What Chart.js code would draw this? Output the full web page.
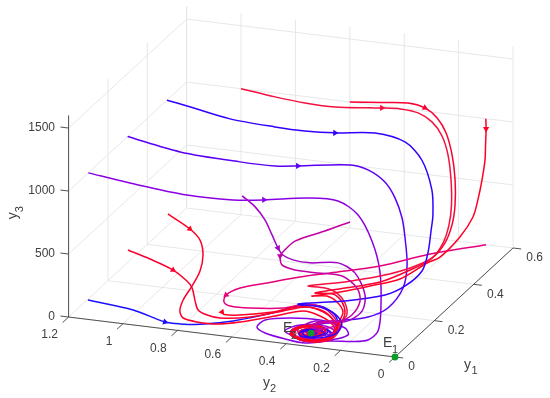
<!DOCTYPE html>
<html>
<head>
<meta charset="utf-8">
<style>
html, body { margin: 0; padding: 0; background: #fff; }
canvas { display: block; }
</style>
<script src="https://cdn.jsdelivr.net/npm/chart.js@4"></script>
</head>
<body>
<canvas id="phase_chart" width="550" height="398"></canvas>
<script>
var y1Ticks = [0, 0.2, 0.4, 0.6];
var y2Ticks = [0, 0.2, 0.4, 0.6, 0.8, 1, 1.2];
var y3Ticks = [0, 500, 1000, 1500];
var y3Top = 1600;

// equilibria
var e1 = [0, 0, 0];
var e2 = [0.02, 0.323, 76];

// trajectories, values
var redAY1 = [.6,.6,.6,.6,.6,.6,.6,.6,.6,.6,.6,.6,.55,.5,.45,.42,.38,.35,.32,.29,.25,.22,.18,.13,.08,.02,.02,.02,.02,.02,.02,.02,.02,.02,.02,.02,.02,.02,.02,.02];
var redAY2 = [1,.875,.765,.654,.526,.482,.415,.349,.298,.261,.239,.228,.19,.163,.149,.168,.219,.308,.415,.529,.438,.372,.314,.271,.26,.224,.246,.29,.338,.382,.386,.353,.308,.283,.297,.327,.353,.338,.316,.323];
var redAY3 = [1000,968,949,946,973,984,994,980,922,820,675,480,364,284,216,136,101,56,25,6,71,92,86,75,86,110,57,21,17,37,75,117,136,119,75,52,69,89,87,68];

var redBY1 = [.6,.6,.6,.6,.6,.6,.6,.6,.55,.5,.45,.42,.38,.33,.3,.26,.23,.18,.13,.08,.02,.02,.02,.02,.02,.02,.02,.02,.02,.02,.02,.02,.02,.02,.02];
var redBY2 = [.6,.489,.386,.324,.279,.246,.224,.213,.177,.152,.142,.171,.219,.294,.401,.482,.394,.325,.278,.256,.228,.253,.301,.353,.393,.382,.338,.29,.272,.308,.353,.364,.327,.301,.323];
var redBY3 = [1000,1026,1049,1026,958,848,679,484,367,287,218,127,85,41,9,6,64,91,88,79,94,40,11,13,42,93,129,133,98,48,53,82,99,83,60];

var redCY1 = [.6,.6,.6,.6,.6,.55,.55,.5,.45,.42,.37,.32,.28,.24,.21,.17,.12,.07,.02,.02,.02,.02,.02,.02,.02,.02,.02,.02,.02,.02,.02,.02];
var redCY2 = [.1,.099,.101,.103,.114,.093,.111,.123,.16,.186,.249,.323,.405,.479,.402,.336,.278,.257,.235,.261,.308,.364,.4,.371,.327,.283,.297,.342,.371,.345,.305,.319];
var redCY3 = [1000,919,791,672,510,429,289,199,102,91,20,17,5,11,75,102,110,109,100,45,17,18,48,103,131,111,60,40,64,98,97,66];

var redDY1 = [.05,.05,.05,.05,.05,.05,.05,.05,.05,.05,.05,.05,.05,.05,.02,.02,.02,.02,.02,.02,.02,.02,.02,.02,.02,.02,.02,.02,.02];
var redDY2 = [1.018,.937,.852,.801,.782,.771,.76,.727,.679,.569,.448,.36,.301,.264,.231,.261,.327,.386,.397,.353,.29,.268,.312,.364,.356,.312,.294,.331,.323];
var redDY3 = [508,458,393,319,269,168,100,69,58,95,175,229,206,152,125,45,12,28,73,125,141,99,40,42,91,107,76,59,76];

var redEY1 = [.05,.05,.05,.05,.05,.05,.05,.05,.05,.05,.05,.05,.05,.05,.05,.05,.02,.02,.02,.02,.02,.02,.02,.02,.02,.02,.02,.02];
var redEY2 = [.871,.79,.753,.742,.753,.782,.815,.827,.815,.764,.69,.606,.477,.374,.312,.264,.239,.283,.353,.393,.367,.305,.276,.334,.367,.331,.297,.323];
var redEY3 = [833,735,657,541,411,285,165,75,22,4,7,45,127,194,171,112,91,24,6,50,113,129,81,38,65,106,91,60];

var redFY1 = [.05,.05,.05,.05,.05,.05,.05,.05,.02,.02,.02,.02,.02,.02,.02,.02,.02,.02,.02];
var redFY2 = [.672,.665,.606,.485,.396,.319,.275,.249,.25,.308,.371,.389,.345,.286,.29,.345,.353,.305,.316];
var redFY3 = [107,90,101,157,220,225,180,92,64,21,24,67,118,118,61,43,85,97,67];

var pinkY1 = [.6,.46,.36,.3,.26,.2,.15,.12,.1,.08,.06,.04,.04,.04,.03,.02,.02,.02,.02,.02,.02,.02,.02,.02,.02];
var pinkY2 = [.099,.204,.315,.456,.537,.615,.678,.708,.701,.664,.576,.441,.353,.286,.239,.235,.272,.345,.386,.364,.297,.283,.327,.342,.319];
var pinkY3 = [0,100,120,114,118,137,152,132,107,114,150,214,269,248,187,116,51,23,52,106,123,87,56,79,74];

var magentaY1 = [.15,.15,.15,.15,.15,.15,.15,.15,.15,.15,.15,.15,.05,.02,.02,.02,.02,.02,.02,.02,.02,.02,.02,.02,.02];
var magentaY2 = [.274,.366,.476,.524,.531,.524,.476,.392,.303,.248,.237,.267,.238,.253,.29,.319,.305,.261,.231,.253,.297,.312,.283,.297,.316];
var magentaY3 = [783,687,578,471,445,376,348,347,346,265,165,46,151,191,172,141,113,133,164,179,155,123,119,99,83];

var violetY1 = [.08,.08,.08,.08,.08,.08,.08,.08,.08,.08,.08,.08,.08,.02,.02,.02,.02,.02,.02,.02,.02,.02,.02,.02,.02];
var violetY2 = [.62,.572,.536,.51,.488,.47,.433,.37,.267,.205,.168,.179,.231,.261,.308,.371,.353,.283,.239,.272,.334,.353,.297,.294,.331];
var violetY3 = [1000,925,831,719,621,570,541,534,561,498,333,202,110,172,175,95,29,40,114,146,114,61,67,100,83];

var purpleY1 = [.1,.1,.1,.1,.1,.1,.1,.1,.1,.1,.1,.03,.02,.02,.02,.01,.02,.02,.02,.02,.02,.02,.02,.02,.02,.02,.02,.02,.02,.02,.02,.02];
var purpleY2 = [1.2,1.047,.837,.668,.554,.392,.282,.208,.157,.128,.124,.084,.114,.172,.253,.338,.419,.492,.522,.492,.4,.29,.198,.187,.253,.364,.419,.364,.272,.253,.316,.345];
var purpleY3 = [1000,960,920,926,956,1014,1020,928,735,504,212,141,76,49,32,7,4,32,71,135,175,188,149,97,40,26,67,129,130,87,55,79];

var blueAY1 = [.5,.5,.5,.5,.5,.5,.5,.5,.5,.5,.45,.45,.42,.36,.32,.28,.24,.2,.17,.12,.07,.02,.02,.02,.02,.02,.02,.02,.02,.02,.02,.02,.02,.02];
var blueAY2 = [1.2,1.126,.968,.803,.693,.582,.435,.325,.263,.226,.186,.193,.182,.161,.194,.239,.357,.501,.399,.307,.246,.228,.268,.327,.367,.353,.305,.272,.308,.349,.353,.319,.301,.323];
var blueAY3 = [1000,974,913,893,890,904,942,900,773,545,429,300,179,121,51,25,4,0,46,87,96,102,60,36,49,89,109,91,52,50,77,94,79,64];

var blueBY1 = [.3,.3,.3,.3,.3,.3,.3,.3,.3,.3,.3,.28,.2,.13,.08,.05,.02,.02,.02,.02,.02,.02,.02,.02,.02,.02,.02,.02,.02,.02];
var blueBY2 = [1.2,1.007,.787,.658,.574,.382,.316,.254,.217,.191,.18,.158,.115,.12,.157,.246,.283,.345,.397,.364,.297,.242,.261,.319,.367,.342,.29,.283,.331,.327];
var blueBY3 = [1000,929,908,910,932,991,969,889,773,620,464,284,229,170,161,148,159,134,73,10,20,74,117,118,73,36,65,103,91,64];

var blueCY1 = [.05,.05,.02,.02,.02,.02,.02,.02,.02,.02,.02,.02,.02,.02,.02,.02,.02,.02,.02,.02,.02,.02,.02,.02,.02];
var blueCY2 = [1.165,.999,.86,.805,.731,.61,.463,.375,.29,.235,.224,.246,.297,.364,.4,.371,.297,.261,.308,.356,.356,.308,.312,.323,.323];
var blueCY3 = [72,37,22,21,37,96,199,277,299,243,150,65,20,14,48,111,139,101,44,44,83,100,71,76,76];

// first in the list ends up on top
var trajectories = [
    { y1: magentaY1, y2: magentaY2, y3: magentaY3, color: "#c400a4", arrows: [4] },
    { y1: blueAY1, y2: blueAY2, y3: blueAY3, color: "#3300ff", arrows: [5] },
    { y1: redCY1, y2: redCY2, y3: redCY3, color: "#ff0024", arrows: [1] },
    { y1: redAY1, y2: redAY2, y3: redAY3, color: "#f5103f", arrows: [5] },
    { y1: redBY1, y2: redBY2, y3: redBY3, color: "#f80030", arrows: [3] },
    { y1: redDY1, y2: redDY2, y3: redDY3, color: "#fb0030", arrows: [2] },
    { y1: redEY1, y2: redEY2, y3: redEY3, color: "#ff0028", arrows: [1] },
    { y1: redFY1, y2: redFY2, y3: redFY3, color: "#ff0020", arrows: [0] },
    { y1: pinkY1, y2: pinkY2, y3: pinkY3, color: "#e6007c", arrows: [7] },
    { y1: violetY1, y2: violetY2, y3: violetY3, color: "#a400c8", arrows: [4] },
    { y1: blueBY1, y2: blueBY2, y3: blueBY3, color: "#5a00f4", arrows: [4] },
    { y1: blueCY1, y2: blueCY2, y3: blueCY3, color: "#1a10ff", arrows: [2] },
    { y1: purpleY1, y2: purpleY2, y3: purpleY3, color: "#8a00e4", arrows: [4] }
];

// fixed oblique view of the 3d box, same as the picture
function project(y1, y2, y3) {
    return {
        x: 395 + 196.7 * y1 - 272 * y2,
        y: 357 - 181.7 * y1 - 33.3 * y2 - 0.126 * y3
    };
}

function segments(list) {
    var pts = [];
    list.forEach(function(s) {
        pts.push(project(s[0], s[1], s[2]));
        pts.push(project(s[3], s[4], s[5]));
        pts.push({ x: NaN, y: NaN });
    });
    return pts;
}

function gridSegments() {
    var list = [];
    var y1Back = y1Ticks[y1Ticks.length - 1];
    var y2Back = y2Ticks[y2Ticks.length - 1];
    y1Ticks.forEach(function(v) {
        list.push([v, 0, 0, v, y2Back, 0]);
        list.push([v, y2Back, 0, v, y2Back, y3Top]);
    });
    y2Ticks.forEach(function(v) {
        list.push([0, v, 0, y1Back, v, 0]);
        list.push([y1Back, v, 0, y1Back, v, y3Top]);
    });
    y3Ticks.forEach(function(v) {
        if (v === 0) return;
        list.push([0, y2Back, v, y1Back, y2Back, v]);
        list.push([y1Back, y2Back, v, y1Back, 0, v]);
    });
    return segments(list);
}

function axisSegments() {
    var y1Back = y1Ticks[y1Ticks.length - 1];
    var y2Back = y2Ticks[y2Ticks.length - 1];
    var list = [
        [0, 0, 0, 0, y2Back, 0],
        [0, 0, 0, y1Back, 0, 0],
        [0, y2Back, 0, 0, y2Back, y3Top]
    ];
    y2Ticks.forEach(function(v) {
        list.push([0, v, 0, -0.03, v, 0]);
    });
    y1Ticks.forEach(function(v) {
        list.push([v, 0, 0, v, -0.03, 0]);
    });
    y3Ticks.forEach(function(v) {
        list.push([0, y2Back, v, 0, y2Back + 0.03, v]);
    });
    return segments(list);
}

function trajectoryDataset(t) {
    var pts = t.y1.map(function(v, i) {
        return project(v, t.y2[i], t.y3[i]);
    });
    return {
        data: pts,
        showLine: true,
        borderColor: t.color,
        backgroundColor: t.color,
        borderWidth: 1.5,
        tension: 0.3,
        pointStyle: "triangle",
        pointBorderWidth: 0,
        pointRadius: function(ctx) {
            return t.arrows.indexOf(ctx.dataIndex) >= 0 ? 3.6 : 0;
        },
        pointRotation: function(ctx) {
            var i = ctx.dataIndex;
            var a = pts[Math.max(i - 1, 0)];
            var b = pts[Math.min(i + 1, pts.length - 1)];
            return Math.atan2(b.y - a.y, b.x - a.x) * 180 / Math.PI + 90;
        }
    };
}

// text goes on through the same scales as the marks
var axisText = {
    id: "axisText",
    afterDatasetsDraw: function(chart) {
        var ctx = chart.ctx;
        var sx = chart.scales.x;
        var sy = chart.scales.y;
        var ink = "#404040";

        function label(text, p, dx, dy, align, size) {
            ctx.font = size + 'px "Liberation Sans", Arial, sans-serif';
            ctx.textAlign = align;
            ctx.textBaseline = "middle";
            ctx.fillStyle = ink;
            ctx.fillText(text, sx.getPixelForValue(p.x) + dx, sy.getPixelForValue(p.y) + dy);
        }

        ctx.save();
        var y2Back = y2Ticks[y2Ticks.length - 1];
        y3Ticks.forEach(function(v) {
            label(String(v), project(0, y2Back, v), -13.6, 0, "right", 12);
        });
        y2Ticks.forEach(function(v) {
            label(String(v), project(0, v, 0), -10.7, 18, "right", 12);
        });
        y1Ticks.forEach(function(v) {
            label(String(v), project(v, 0, 0), 13.3, 10, "left", 12);
        });

        var origin = project(0, 0, 0);
        label("y", origin, -132, 26, "left", 14);
        label("2", origin, -125, 32, "left", 11);
        label("y", origin, 69, 8, "left", 14);
        label("1", origin, 76.5, 14, "left", 11);

        var eOne = project(e1[0], e1[1], e1[2]);
        label("E", eOne, -12, -14, "left", 14);
        label("1", eOne, -3, -7, "left", 11);
        var eTwo = project(e2[0], e2[1], e2[2]);
        label("E", eTwo, -28, -5, "left", 14);
        label("2", eTwo, -20, 3, "left", 11);

        // vertical axis label is rotated
        var top = project(0, y2Back, y3Top / 2);
        ctx.translate(sx.getPixelForValue(top.x) - 55, sy.getPixelForValue(top.y) + 3);
        ctx.rotate(-Math.PI / 2);
        ctx.fillStyle = ink;
        ctx.textBaseline = "middle";
        ctx.textAlign = "left";
        ctx.font = '14px "Liberation Sans", Arial, sans-serif';
        ctx.fillText("y", 0, 0);
        ctx.font = '11px "Liberation Sans", Arial, sans-serif';
        ctx.fillText("3", 7, 6);
        ctx.restore();
    }
};

var datasets = [{
    data: [project(e1[0], e1[1], e1[2]), project(e2[0], e2[1], e2[2])],
    pointStyle: "circle",
    pointRadius: 3.4,
    pointBorderWidth: 0,
    backgroundColor: "#0c9c2a"
}];
trajectories.forEach(function(t) {
    datasets.push(trajectoryDataset(t));
});
datasets.push({
    data: axisSegments(),
    showLine: true,
    spanGaps: false,
    borderColor: "#404040",
    borderWidth: 0.9,
    pointRadius: 0
});
datasets.push({
    data: gridSegments(),
    showLine: true,
    spanGaps: false,
    borderColor: "#e4e4e4",
    borderWidth: 0.9,
    pointRadius: 0
});

new Chart("phase_chart", {
    type: "scatter",
    data: { datasets: datasets },
    options: {
        responsive: false,
        animation: false,
        layout: { padding: 0, autoPadding: false },
        plugins: {
            legend: { display: false },
            tooltip: { enabled: false }
        },
        scales: {
            x: { type: "linear", display: false, min: 0, max: 550 },
            y: { type: "linear", display: false, min: 0, max: 398, reverse: true }
        }
    },
    plugins: [axisText]
});
</script>
</body>
</html>
